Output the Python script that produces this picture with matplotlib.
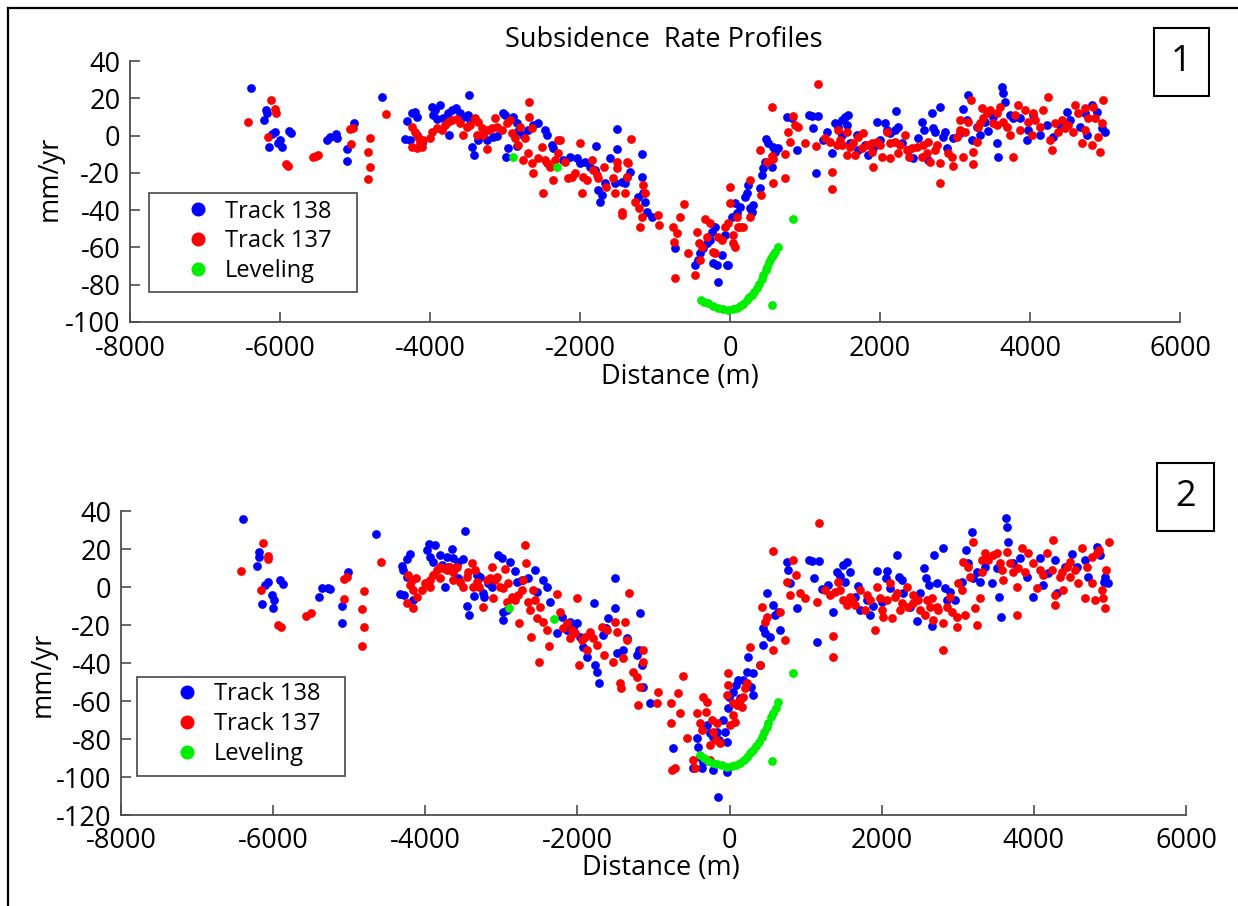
"""
Subsidence rate profiles: two panels of InSAR tracks and leveling.
"""
import matplotlib

matplotlib.use("Agg")
import matplotlib.pyplot as plt
from matplotlib.lines import Line2D
from matplotlib.patches import Rectangle

plt.rcParams["font.family"] = ["Open Sans", "DejaVu Sans"]
plt.rcParams["axes.unicode_minus"] = False

# ---------------- panel 1 ----------------
p1_t138_x = [
    -6391, -6187, -6178, -6214, -6067, -6111, -6000, -6022, -5978, -6142, -5876, -5858,
    -5378, -5334, -5254, -5236, -5103, -5103, -5014, -4645,
    -4312, -4245, -4200, -4178, -4334, -4267, -4178, -4111, -3978, -3934, -3956, -3867,
    -3911, -3822, -3756, -3711, -3654, -3600, -3556, -3489, -3467, -3742, -3476, -3445,
    -3414, -3356, -3245, -3156, -3111, -3032, -3000, -2889, -2845, -2823, -2756, -2689,
    -2623, -2556, -2467, -2445, -2378, -2356, -2987, -2956, -2845,
    -2222, -2133, -2044, -2000, -1933, -1867, -1787, -1800, -1755, -1711, -1733, -1667,
    -1600, -1511, -1502, -1533, -1444, -1400, -1378, -1333, -1169, -1178, -1222, -1155,
    -1133, -1111, -1044, -733, -467, -422, -400, -355, -311, -267, -244, -200,
    -222, -178, -155, -111, -67, -44, -22, 22, 67, 89, 133, 200,
    222, 244, 267, 311, 289, 400, 422, 444, 467, 480, 511, 556,
    578, 600, 644, 755, 822, 889, 1058,
    1089, 1178, 1111, 1147, 1245, 1289, 1356, 1400, 1445, 1489, 1533, 1578,
    1556, 1489, 1600, 1689, 1711, 1800, 1845, 1911, 1956, 2000, 2067, 2089,
    2133, 2214, 2200, 2245, 2289, 2378, 2445, 2511, 2556, 2587, 2645, 2689,
    2711, 2733, 2800, 2845, 2867, 2889, 2978, 3067, 3102, 3156, 3178, 3222,
    3289, 3333, 3400, 3445, 3511, 3556, 3578, 3622, 3636, 3667, 3733, 3778,
    3867, 3956, 3978, 4045, 4133, 4222, 4311, 4400, 4489, 4533, 4667, 4733,
    4822, 4889, 4956, 5000, 4756,
]
p1_t138_y = [
    25.7, 13.7, 11.9, 8.4, 2.1, 0.8, -2.4, -4.2, -6.3, -6.3, 2.6, 1.5,
    -2.4, -0.6, 0.8, -1.5, -7.4, -13.5, 6.6, 20.5,
    8.0, 11.9, 12.8, 10.1, -2.0, -2.4, 0.3, -4.2, 15.5, 13.7, 11.0, 16.4,
    8.7, 9.2, 11.9, 13.7, 14.6, 11.9, 10.1, 11.0, 8.4, 0.3, 21.8, -6.3,
    -10.4, -2.4, -2.4, -0.6, -0.2, 12.3, 11.0, 10.1, 6.6, 2.6, 0.3, 3.0,
    5.7, 6.9, 3.0, 0.3, -5.1, -6.8, -11.7, -6.8, -5.6,
    -13.1, -11.3, -12.2, -14.9, -14.0, -16.7, -5.6, -18.5, -29.2, -31.9, -35.5, -25.6,
    -12.2, 3.3, -7.4, -25.6, -24.7, -25.6, -22.1, -19.4, -9.9, -22.1, -32.8, -31.0,
    -35.5, -40.8, -43.5, -60.5, -69.4, -66.8, -63.2, -60.5, -57.8, -56.0, -51.6, -48.9,
    -68.5, -69.4, -78.4, -64.1, -53.3, -69.4, -69.4, -43.5, -36.4, -41.7, -38.1, -32.8,
    -31.0, -26.5, -39.0, -37.2, -40.8, -28.3, -21.2, -17.6, -14.0, -2.0, -4.2, -16.7,
    -6.0, -8.6, -6.9, 10.1, 9.2, -7.7, 11.0,
    10.5, 10.5, 3.9, -20.3, -2.4, 2.1, -9.5, 6.6, 4.8, 8.4, 9.8, 11.0,
    5.7, 0.3, -4.2, 0.3, -7.7, -5.1, -10.4, -6.8, 7.5, -2.4, 6.6, 3.0,
    1.2, 13.4, 3.0, 4.8, -4.2, -7.7, -12.2, -1.5, 7.5, 3.0, -13.1, 12.3,
    3.9, 2.1, 15.5, -0.6, 2.1, -6.8, -1.5, 1.2, 14.1, 8.4, 21.8, -2.4,
    4.8, 0.3, 7.5, 2.6, 10.1, -4.2, -11.3, 26.2, 23.0, 18.2, 11.0, 9.2,
    9.2, -2.4, 3.0, 11.0, 0.3, 5.7, -0.6, 5.7, 12.8, 8.4, 4.8, 11.9,
    16.4, 12.8, 3.9, 2.1, 0.3,
]

p1_t137_x = [
    -6423, -6120, -6067, -6054, -6156, -5920, -5889, -5565, -5520, -5489, -5067, -5032,
    -5058, -4800, -4822, -4800, -4822, -4587,
    -4245, -4200, -4156, -4134, -4178, -4245, -4111, -4089, -4000, -3978, -3911, -3845,
    -3800, -3756, -3711, -3645, -3600, -3556, -3512, -3467, -3400, -3356, -3312, -3267,
    -3223, -3178, -3134, -3111, -3045, -2978, -2934, -2912, -2867, -2823, -2800, -2734,
    -2676, -2676, -2645, -2756, -2689, -2645, -2623, -2556, -2512, -2467, -2445, -2400,
    -2365, -2334, -2290, -2290, -2498, -3236, -3378, -3290,
    -2267, -2200, -2155, -2111, -2067, -2000, -1978, -1955, -1911, -1844, -1822, -1778,
    -1755, -1680, -1653, -1533, -1511, -1502, -1555, -1444, -1444, -1400, -1378, -1355,
    -1378, -1324, -1267, -1209, -1200, -1178, -1155, -1133, -955, -942, -764, -747,
    -711, -667, -613, -733, -555, -467, -444, -409, -400, -378, -333, -311,
    -267, -222, -200, -155, -111, -67, -22, 0, 44, 44, 67, 89,
    111, 133, 178, 0, 267, 267, 409, 400, 489, 556, 569, 578,
    733, 733, 778, 800, 835, 867, 911, 1000, 556,
    1178, 1147, 1267, 1356, 1356, 1334, 1445, 1467, 1489, 1556, 1600, 1645,
    1711, 1756, 1822, 1889, 1911, 1956, 2000, 2022, 2089, 2133, 2133, 2200,
    2245, 2267, 2333, 2356, 2422, 2489, 2556, 2578, 2645, 2667, 2733, 2756,
    2800, 2800, 2911, 2956, 2978, 3022, 3067, 3102, 3133, 3178, 3209, 3236,
    3245, 3289, 3311, 3356, 3378, 3422, 3467, 3511, 3556, 3600, 3645, 3689,
    3733, 3778, 3845, 3867, 3933, 3978, 4022, 4067, 4133, 4178, 4245, 4267,
    4289, 4333, 4378, 4422, 4467, 4511, 4578, 4600, 4645, 4689, 4733, 4778,
    4822, 4845, 4867, 4911, 4933, 4956, 4978, 4733, 4045, 3800, 3556, 3333,
    3067, 2622, 2391, 1889, 1778, 1667, 1556, 1422,
]
p1_t137_y = [
    7.5, 19.1, 14.1, 12.3, -0.9, -15.2, -16.3, -11.3, -10.8, -10.4, 3.3, 3.9,
    -4.5, -1.5, -8.6, -16.7, -23.5, 11.4,
    4.8, 2.1, -0.6, -3.3, -6.8, -5.9, -5.9, -2.4, -1.5, 2.1, 3.9, 3.0,
    5.7, 7.5, 8.4, 8.7, 6.6, 0.3, 4.8, 5.7, 9.2, 7.5, 3.9, 3.0,
    3.0, 3.9, 9.2, 4.8, 3.0, 6.6, 8.4, 1.2, -1.5, -5.1, 4.8, -1.5,
    18.2, 10.1, 3.9, -13.1, -9.5, -14.9, -20.3, -12.2, -5.9, -13.1, -14.9, -16.7,
    -23.8, -13.1, -2.4, -9.5, -30.6, -7.4, 0.3, 0.3,
    -2.4, -14.0, -22.9, -22.1, -20.3, -4.2, -31.0, -22.1, -23.8, -13.1, -18.5, -21.2,
    -22.9, -16.7, -27.8, -30.6, -14.0, -17.6, -22.9, -40.8, -42.6, -31.0, -14.0, -14.9,
    -22.1, -2.0, -35.5, -39.0, -48.9, -43.5, -26.5, -31.0, -42.6, -48.0, -48.9, -56.9,
    -52.5, -43.5, -36.7, -76.6, -63.2, -74.8, -51.6, -57.8, -66.8, -59.6, -44.9, -54.2,
    -47.1, -62.3, -63.2, -54.2, -56.0, -48.9, -47.1, -36.4, -53.3, -57.8, -59.6, -43.5,
    -48.9, -48.9, -48.9, -27.4, -23.8, -43.5, -31.9, -7.7, -14.0, -11.0, -25.6, -12.8,
    -22.6, -9.9, 2.1, -3.3, 10.5, 5.7, 4.8, -4.2, 15.5,
    27.7, -5.6, -1.5, -19.4, -28.7, -3.3, 3.0, -2.4, -5.1, -10.4, -5.9, -4.2,
    -0.6, -6.8, -5.1, -8.6, -16.7, -3.3, -5.1, -11.3, 2.1, -12.2, -4.2, -3.3,
    -9.5, -5.1, 0.3, -7.7, -6.8, -5.9, -11.3, -5.1, -3.3, -14.0, -7.7, -5.1,
    -14.9, -25.6, -9.5, -11.3, -16.3, -0.6, 8.4, -11.3, 2.1, 7.5, 19.1, -15.2,
    -8.6, -3.3, 4.8, 14.6, 9.2, 11.9, 13.7, 6.6, 5.7, 15.5, 7.5, 4.8,
    0.3, -11.3, 16.4, 3.0, 13.7, 7.5, 0.3, 8.4, 4.8, 13.7, 20.5, -2.4,
    -7.7, 6.6, 2.1, 8.4, 3.9, 5.7, 2.1, 16.4, 11.9, -4.2, 3.0, 9.2,
    -5.1, 15.5, 9.2, -0.6, -8.6, 6.9, 19.1, 14.6, 11.9, 11.0, 11.9, 6.6,
    3.0, -9.5, -11.3, -4.2, 1.2, -10.4, 2.1, -5.1,
]

p1_lev_x = [
    -2889, -2312, -391, -347, -289, -222, -155, -89, -22, 36, 89, 133,
    178, 222, 258, 289, 320, 356, 391, 422, 444, 480, 498, 525,
    542, 578, 600, 636, 844, 560,
]
p1_lev_y = [
    -11.3, -17.0, -88.2, -89.1, -90.0, -91.4, -92.7, -93.2, -93.6, -93.2, -92.7, -91.4,
    -90.4, -88.2, -86.4, -85.5, -83.7, -82.0, -79.6, -77.1, -74.8, -72.1, -70.3, -67.6,
    -65.9, -64.1, -62.3, -60.0, -44.9, -90.9,
]

# ---------------- panel 2 ----------------
p2_t138_x = [
    -6401, -6181, -6181, -6216, -6063, -6107, -6019, -5989, -6006, -6151, -5910, -5866,
    -5362, -5252, -5393, -5274, -5011, -5099, -5099, -4648,
    -4310, -4288, -4236, -4201, -4245, -4332, -4280, -4157, -3947, -3973, -3938, -3894,
    -3872, -3807, -3719, -3653, -3631, -3565, -3500, -3478, -3741, -3456, -3421, -3359,
    -3324, -3237, -3228, -3171, -3127, -3039, -2996, -2886, -2820, -2798, -2733, -2645,
    -2558, -2536, -2448, -2404, -2360, -2983, -2974, -2930, -2273, -3281, -3565, -3609,
    -3697, -3785,
    -2207, -2142, -2098, -2054, -2010, -1966, -1923, -1879, -1782, -1769, -1747, -1712,
    -1625, -1594, -1660, -1506, -1506, -1484, -1397, -1353, -1213, -1178, -1156, -1186,
    -1134, -1046, -740, -433, -411, -389, -354, -301, -257, -214, -170, -135,
    -91, -60, -38, -16, -3, 50, 84, 115, 137, 181, 224, 247,
    277, 312, 304, 400, 435, 444, 466, 488, 531, 575, 597, 641,
    663, 750, 772, 794, 882, 1048, -148, -214, -38, -477, -367,
    1079, 1180, 1114, 1145, 1211, 1298, 1364, 1408, 1452, 1496, 1539, 1583,
    1517, 1649, 1693, 1715, 1802, 1846, 1890, 1943, 2000, 2065, 2056, 2109,
    2206, 2232, 2262, 2284, 2372, 2460, 2503, 2556, 2582, 2626, 2657, 2687,
    2722, 2801, 2832, 2854, 2898, 2964, 3051, 3108, 3139, 3183, 3205, 3257,
    3292, 3358, 3446, 3511, 3546, 3564, 3634, 3643, 3665, 3730, 3818, 3906,
    3985, 4081, 4125, 4190, 4278, 4300, 4410, 4497, 4563, 4673, 4716, 4826,
    4870, 4922, 4979, 4935,
]
p2_t138_y = [
    35.8, 18.6, 16.0, 11.1, 2.8, 1.1, -4.2, -6.8, -11.2, -8.9, 3.7, 1.6,
    -0.7, -1.2, -5.4, -0.7, 8.1, -10.0, -19.1, 27.9,
    11.1, 9.0, 14.6, 17.4, 5.5, -3.7, -4.2, -6.8, 22.6, 19.5, 16.0, 13.3,
    22.1, 16.9, 16.0, 19.8, 15.1, 13.3, 14.6, 29.7, -0.2, -10.0, -14.7, -4.7,
    6.3, -3.3, -5.1, 1.9, -0.2, 16.9, 15.1, 13.4, 8.6, 2.8, 3.7, 4.6,
    9.0, -2.4, 3.7, -0.2, -7.7, -13.0, -17.4, -12.1, -24.4, 5.4, 5.0, 9.8,
    10.7, 11.6,
    -15.6, -22.6, -18.2, -21.7, -19.1, -26.1, -31.4, -36.6, -8.6, -41.0, -44.5, -50.7,
    -21.7, -16.5, -25.3, 4.6, -11.2, -34.9, -33.1, -27.0, -35.8, -13.8, -41.0, -33.1,
    -52.4, -61.2, -84.9, -79.6, -84.0, -89.3, -91.9, -72.6, -77.0, -78.7, -76.1, -80.5,
    -70.0, -76.1, -81.4, -63.8, -57.7, -55.1, -51.6, -49.0, -58.6, -49.0, -44.5, -36.6,
    -52.4, -56.8, -45.4, -41.0, -30.5, -21.7, -24.4, -3.3, -26.1, -9.5, -14.7, -13.0,
    -22.6, 13.3, 8.9, 1.9, -11.2, 14.2, -110.3, -96.3, -97.2, -95.4, -95.4,
    13.9, 13.9, 4.9, -28.8, -1.2, 1.1, -13.0, 8.1, 5.8, 11.6, 13.3, 8.1,
    2.8, -5.1, 0.5, -12.1, -6.8, -14.7, -10.0, 8.6, -7.7, 8.6, 4.6, -0.7,
    16.9, 5.5, 3.7, -3.3, -10.3, -17.9, -3.3, 9.8, 4.6, 1.1, -20.5, 16.9,
    1.9, 20.4, -0.7, -6.8, -2.4, -6.8, 2.8, 19.5, 12.5, 29.1, 4.6, 8.1,
    2.8, 10.7, 1.9, 9.8, -5.1, -15.9, 36.1, 31.8, 23.9, 12.5, 15.1, 5.5,
    -5.1, 15.1, 1.1, 7.2, 14.2, -3.3, 10.7, 17.2, 10.7, 14.2, 5.5, 21.2,
    16.9, 2.8, 1.9, 5.5,
]

p2_t137_x = [
    -6427, -6129, -6063, -6063, -6160, -5932, -5897, -5568, -5507, -5069, -5034, -5069,
    -4806, -4827, -4806, -4827, -4586,
    -4223, -4179, -4201, -4157, -4113, -4245, -4157, -4122, -4048, -4004, -3938, -3894,
    -3850, -3807, -3763, -3719, -3675, -3631, -3587, -3544, -3500, -3456, -3434, -3390,
    -3346, -3324, -3289, -3237, -3193, -3149, -3127, -3083, -3061, -3018, -2974, -2952,
    -2908, -2864, -2820, -2777, -2733, -2711, -2689, -2676, -2645, -2623, -2588, -2558,
    -2536, -2492, -2448, -2404, -2369, -2501, -2615, -2764, -2930, -3105, -3368, -3631,
    -3807, -3938,
    -2264, -2229, -2186, -2133, -2098, -2076, -2032, -2002, -1975, -1944, -1901, -1879,
    -1835, -1791, -1747, -1682, -1651, -1616, -1537, -1506, -1484, -1441, -1432, -1405,
    -1375, -1353, -1318, -1265, -1221, -1200, -1178, -1143, -1134, -937, -950, -774,
    -774, -761, -674, -652, -617, -564, -433, -455, -389, -367, -354, -301,
    -310, -257, -236, -214, -179, -161, -38, -16, -16, 6, 41, 50,
    71, 93, 137, 159, 181, 203, 224, 268, 400, 422, 466, 496,
    575, 663, 728, 750, 794, 829, 873, 925, 991, 566, -718, -257,
    -126, -477,
    1180, 1145, 1255, 1355, 1355, 1320, 1430, 1452, 1496, 1539, 1605, 1649,
    1715, 1780, 1846, 1912, 1934, 1978, 2021, 2065, 2109, 2131, 2175, 2241,
    2262, 2328, 2350, 2416, 2482, 2503, 2569, 2591, 2657, 2679, 2723, 2744,
    2801, 2801, 2854, 2920, 2985, 2985, 3007, 3051, 3073, 3095, 3139, 3205,
    3226, 3248, 3292, 3314, 3358, 3402, 3468, 3511, 3555, 3577, 3643, 3687,
    3730, 3774, 3783, 3840, 3884, 3928, 3993, 4037, 4081, 4169, 4234, 4247,
    4278, 4278, 4344, 4388, 4432, 4475, 4541, 4585, 4629, 4673, 4695, 4760,
    4804, 4826, 4861, 4892, 4914, 4935, 4993, 4949, 4760, 4475, 4366, 4125,
    3796, 3599, 3314, 3161, 2898, 2635, 2416, 2197, 1999, 1802, 1583, 1386,
]
p2_t137_y = [
    8.6, 23.3, 16.3, 14.6, -1.6, -20.0, -20.9, -15.2, -13.8, 4.0, 5.4, -6.5,
    -2.1, -11.6, -21.0, -31.2, 13.3,
    6.3, 3.7, 1.1, -1.6, -5.1, -8.6, -11.2, 4.6, -1.6, 1.9, 3.7, 6.3,
    9.0, 10.7, 9.8, 9.0, 10.7, 8.1, 10.7, 2.8, 0.2, 5.4, 8.1, 12.5,
    9.0, 2.8, 0.2, -10.3, 3.7, 4.6, 10.7, 3.7, 5.4, 0.2, -0.7, 9.3,
    2.0, -5.1, -6.8, -4.2, -1.6, 3.7, 22.1, 12.5, -7.7, -12.1, -1.6, -6.8,
    -16.5, -10.3, -18.2, -22.6, -31.0, -39.3, -26.1, -19.1, -7.7, -6.0, 0.2, 3.7,
    4.6, 0.2,
    -3.7, -13.0, -21.7, -19.1, -27.0, -22.6, -24.4, -5.9, -41.0, -27.9, -26.1, -33.1,
    -23.5, -27.0, -30.5, -20.9, -35.8, -22.6, -39.3, -18.2, -23.5, -50.7, -53.3, -37.5,
    -18.2, -27.9, -3.3, -44.5, -47.2, -62.1, -52.4, -33.1, -39.3, -55.1, -61.2, -61.2,
    -71.7, -96.3, -55.9, -66.5, -46.8, -79.6, -66.5, -95.4, -71.7, -75.2, -57.7, -60.3,
    -65.6, -83.1, -70.0, -76.1, -80.5, -71.7, -56.8, -45.4, -51.6, -72.6, -61.2, -67.3,
    -70.9, -62.1, -59.5, -63.0, -57.7, -53.3, -50.7, -31.4, -41.0, -10.3, -18.2, -15.6,
    -33.1, -13.0, -27.9, 2.8, -4.2, 14.2, 6.3, -3.3, -6.0, 19.1, -95.4, -91.0,
    -82.3, -91.0,
    33.9, -7.7, -1.6, -25.8, -36.6, -4.2, 2.8, -1.6, -6.8, -9.5, -6.8, -9.5,
    -1.6, -12.1, -6.8, -22.6, 0.2, -6.0, -15.6, -6.8, 1.9, -16.5, -5.1, -12.1,
    -8.6, 0.2, -10.3, -8.6, -6.8, -12.1, -14.7, -6.8, -6.0, -17.4, -10.3, -12.1,
    -19.1, -33.1, -10.3, -13.0, -15.6, -20.9, 1.9, -1.6, 13.3, -14.7, 10.7, 23.9,
    -11.2, -20.0, -6.0, 8.1, 17.7, 14.2, 16.9, 17.7, 12.5, 9.0, 18.6, 12.5,
    8.1, 0.2, -14.7, 20.4, 8.1, 17.7, 12.5, -0.7, 9.0, 17.7, 9.0, 24.7,
    -4.2, -9.5, 5.5, -1.6, 10.7, 5.5, 9.0, 1.9, 20.4, -6.0, 10.7, 1.9,
    -6.8, 17.7, 19.5, -1.6, -6.0, -11.2, 23.9, 9.0, 16.0, 13.3, 8.1, 6.3,
    9.8, 3.7, 14.2, 5.5, -5.1, -10.3, -4.2, -3.3, -12.1, -4.2, -5.1, -2.5,
]

p2_lev_x = [
    -2895, -2308, -389, -336, -279, -222, -161, -104, -38, 27, 84, 137,
    189, 233, 268, 304, 347, 391, 422, 452, 488, 510, 540, 575,
    610, 641, 838, 562,
]
p2_lev_y = [
    -11.2, -17.0, -88.4, -90.1, -91.4, -92.4, -93.1, -93.8, -94.5, -94.2, -93.7, -92.4,
    -91.0, -89.6, -87.5, -85.8, -83.7, -81.4, -78.7, -76.1, -73.5, -71.4, -68.2, -66.1,
    -63.8, -60.7, -45.1, -91.4,
]

FIG_W, FIG_H = 1238, 906
SPINE = "#4d4d4d"
TICK_FS = 19.5


def fig_rect(x0, y0, x1, y1):
    """Pixel box (top-left origin) -> figure fraction [left, bottom, w, h]."""
    return [x0 / FIG_W, 1 - y1 / FIG_H, (x1 - x0) / FIG_W, (y1 - y0) / FIG_H]


def fig_pt(x, y):
    return x / FIG_W, 1 - y / FIG_H


def style_axes(ax, ymin, ymax, yticks):
    ax.set_xlim(-8000, 6000)
    ax.set_ylim(ymin, ymax)
    ax.set_xticks(range(-8000, 6001, 2000))
    ax.set_yticks(yticks)
    for side in ("top", "right"):
        ax.spines[side].set_visible(False)
    for side in ("left", "bottom"):
        ax.spines[side].set_color(SPINE)
        ax.spines[side].set_linewidth(1.3)
    ax.tick_params(direction="in", length=7, width=1.2, color=SPINE,
                   labelsize=TICK_FS)
    ax.tick_params(axis="x", pad=9)
    ax.tick_params(axis="y", pad=7)
    ax.set_facecolor("none")


def draw_panel(ax, bx, by, rx, ry, gx, gy):
    h1, = ax.plot(bx, by, "o", color="#0000ff", ms=6.3, mec="none", label="Track 138")
    h2, = ax.plot(rx, ry, "o", color="#ff0000", ms=6.3, mec="none", label="Track 137")
    h3, = ax.plot(gx, gy, "o", color="#00ee00", ms=6.3, mec="none", label="Leveling")
    return [h1, h2, h3]


fig = plt.figure(figsize=(FIG_W / 100, FIG_H / 100), dpi=100)

ax1 = fig.add_axes(fig_rect(130, 61, 1180, 322))
style_axes(ax1, -100, 40, range(-100, 41, 20))
handles = draw_panel(ax1, p1_t138_x, p1_t138_y, p1_t137_x, p1_t137_y, p1_lev_x, p1_lev_y)

ax2 = fig.add_axes(fig_rect(121, 511, 1186, 815))
style_axes(ax2, -120, 40, range(-120, 41, 20))
draw_panel(ax2, p2_t138_x, p2_t138_y, p2_t137_x, p2_t137_y, p2_lev_x, p2_lev_y)

# legends: plain box drawn separately, entries placed inside it
legend_boxes = [
    (ax1, (149, 193, 357, 292), (183, 199.5)),
    (ax2, (137, 677, 345, 776), (172, 682.5)),
]
for ax, (x0, y0, x1, y1), anchor in legend_boxes:
    fig.add_artist(Rectangle(fig_rect(x0, y0, x1, y1)[:2],
                             (x1 - x0) / FIG_W, (y1 - y0) / FIG_H,
                             transform=fig.transFigure, fill=False,
                             edgecolor="#555555", linewidth=1.3))
    ax.legend(handles=handles, loc="upper left", bbox_to_anchor=fig_pt(*anchor),
              bbox_transform=fig.transFigure, fontsize=17, frameon=False,
              markerscale=1.6, borderaxespad=0, borderpad=0,
              labelspacing=0.25, handlelength=1.27, handletextpad=0.5)

# axis labels and title
fig.text(*fig_pt(50, 178), "mm/yr", rotation=90, ha="center", va="center", fontsize=TICK_FS)
fig.text(*fig_pt(43, 674), "mm/yr", rotation=90, ha="center", va="center", fontsize=TICK_FS)
fig.text(*fig_pt(680, 377), "Distance (m)", ha="center", va="center", fontsize=TICK_FS)
fig.text(*fig_pt(661, 868), "Distance (m)", ha="center", va="center", fontsize=TICK_FS)
fig.text(*fig_pt(664, 40), "Subsidence  Rate Profiles", ha="center", va="center", fontsize=19.5)

# panel number boxes
for (x0, y0, x1, y1), num in (((1154, 28, 1209, 96), "1"), ((1157, 463, 1214, 531), "2")):
    fig.add_artist(Rectangle(fig_rect(x0, y0, x1, y1)[:2],
                             (x1 - x0) / FIG_W, (y1 - y0) / FIG_H,
                             transform=fig.transFigure, fill=False,
                             edgecolor="black", linewidth=1.5))
    fig.text(*fig_pt((x0 + x1) / 2, (y0 + y1) / 2), num,
             ha="center", va="center", fontsize=26)

# outer frame (left and top edges of the original slide)
fig.add_artist(Line2D([8 / FIG_W, 8 / FIG_W], [0, 1 - 8 / FIG_H],
                      transform=fig.transFigure, color="black", linewidth=1.6))
fig.add_artist(Line2D([8 / FIG_W, 1], [1 - 8 / FIG_H, 1 - 8 / FIG_H],
                      transform=fig.transFigure, color="black", linewidth=1.6))

fig.savefig("out.png", dpi=100)
